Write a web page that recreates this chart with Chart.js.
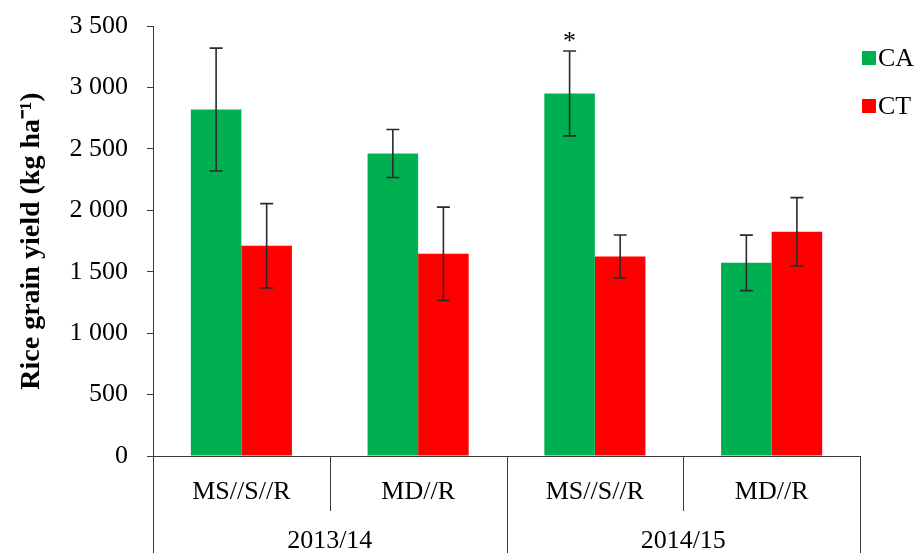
<!DOCTYPE html>
<html lang="en">
<head>
    <meta charset="UTF-8">
    <title>Rice grain yield</title>
    <script src="https://cdn.jsdelivr.net/npm/chart.js"></script>
    <style>
        html, body { margin: 0; padding: 0; background: #fff; }
        .grafico { width: 924px; height: 553px; }
    </style>
</head>
<body>
    <div class="grafico">
        <canvas id="grafico-rendimento" width="924" height="553"></canvas>
    </div>

<script>
    // valores
    const sistemas = ['MS//S//R', 'MD//R', 'MS//S//R', 'MD//R'];
    const safras = ['2013/14', '2014/15'];
    const yTicks = [0, 500, 1000, 1500, 2000, 2500, 3000, 3500];

    const rendimentoCA = [2820, 2462, 2951, 1572];
    const erroCA = [500, 195, 345, 226];
    const rendimentoCT = [1711, 1646, 1624, 1825];
    const erroCT = [343, 380, 175, 278];
    const signifCA = ['', '', '*', ''];

    const fonte = 'Liberation Serif, Times New Roman, serif';
    const corEixo = '#3a3a3a';

    function formatarMilhar(v) {
        return String(v).replace(/\B(?=(\d{3})+(?!\d))/g, ' ');
    }

    // barras de erro + asterisco
    const pluginErros = {
        id: 'erros',
        afterDatasetsDraw(chart) {
            const ctx = chart.ctx;
            const y = chart.scales.y;
            const erros = [erroCA, erroCT];
            ctx.save();
            ctx.strokeStyle = '#2a2a2a';
            ctx.lineWidth = 1.6;
            chart.data.datasets.forEach((ds, d) => {
                const meta = chart.getDatasetMeta(d);
                meta.data.forEach((bar, i) => {
                    const v = ds.data[i];
                    const topo = y.getPixelForValue(v + erros[d][i]);
                    const base = y.getPixelForValue(v - erros[d][i]);
                    ctx.beginPath();
                    ctx.moveTo(bar.x, topo);
                    ctx.lineTo(bar.x, base);
                    ctx.moveTo(bar.x - 6.5, topo);
                    ctx.lineTo(bar.x + 6.5, topo);
                    ctx.moveTo(bar.x - 6.5, base);
                    ctx.lineTo(bar.x + 6.5, base);
                    ctx.stroke();
                    if (d === 0 && signifCA[i]) {
                        ctx.fillStyle = '#000';
                        ctx.font = '26px ' + fonte;
                        ctx.textAlign = 'center';
                        ctx.textBaseline = 'middle';
                        ctx.fillText(signifCA[i], bar.x, topo - 9);
                    }
                });
            });
            ctx.restore();
        }
    };

    // linhas separadoras do eixo x agrupado
    const pluginSeparadores = {
        id: 'separadores',
        afterDraw(chart) {
            const ctx = chart.ctx;
            const x = chart.scales.x;
            const area = chart.chartArea;
            ctx.save();
            ctx.strokeStyle = corEixo;
            ctx.lineWidth = 1;
            for (let i = 0; i <= sistemas.length; i++) {
                const px = Math.round(x.getPixelForValue(i - 0.5)) + 0.5;
                const fim = (i % 2 === 0) ? chart.height : x.bottom + 2;
                ctx.beginPath();
                ctx.moveTo(px, area.bottom);
                ctx.lineTo(px, fim);
                ctx.stroke();
            }
            ctx.restore();
        }
    };

    // legenda a direita
    const pluginLegenda = {
        id: 'legenda',
        afterDraw(chart) {
            const ctx = chart.ctx;
            const area = chart.chartArea;
            ctx.save();
            ctx.font = '26px ' + fonte;
            ctx.textAlign = 'left';
            ctx.textBaseline = 'middle';
            chart.data.datasets.forEach((ds, d) => {
                const cy = 58 + d * 48;
                ctx.fillStyle = ds.backgroundColor;
                ctx.fillRect(area.right + 2, cy - 7, 14, 14);
                ctx.fillStyle = '#000';
                ctx.fillText(ds.label, area.right + 18, cy + 1);
            });
            ctx.restore();
        }
    };

    new Chart(document.getElementById('grafico-rendimento'), {
        type: 'bar',
        data: {
            labels: sistemas,
            datasets: [{
                label: 'CA',
                data: rendimentoCA,
                backgroundColor: '#00B050',
                categoryPercentage: 0.572,
                barPercentage: 1.0
            }, {
                label: 'CT',
                data: rendimentoCT,
                backgroundColor: '#FF0000',
                categoryPercentage: 0.572,
                barPercentage: 1.0
            }]
        },
        options: {
            responsive: false,
            animation: false,
            devicePixelRatio: 1,
            layout: {
                padding: { left: 0, right: 64, top: 26, bottom: 0 }
            },
            plugins: {
                legend: { display: false },
                tooltip: { enabled: false }
            },
            scales: {
                x: {
                    position: 'bottom',
                    weight: 0,
                    grid: { display: false },
                    border: { display: true, color: corEixo, width: 1 },
                    ticks: {
                        color: '#000',
                        padding: 13,
                        font: { family: fonte, size: 26 }
                    },
                    afterFit(scale) { scale.height = 53; }
                },
                x2: {
                    type: 'category',
                    position: 'bottom',
                    weight: 1,
                    labels: safras,
                    offset: true,
                    grid: { display: false },
                    border: { display: false },
                    ticks: {
                        color: '#000',
                        padding: 9,
                        font: { family: fonte, size: 26 }
                    },
                    afterFit(scale) { scale.height = 44; }
                },
                y: {
                    min: 0,
                    max: 3500,
                    afterBuildTicks(scale) {
                        scale.ticks = yTicks.map(v => ({ value: v }));
                    },
                    grid: {
                        drawOnChartArea: false,
                        tickLength: 6,
                        color: corEixo
                    },
                    border: { display: true, color: corEixo, width: 1 },
                    ticks: {
                        color: '#000',
                        padding: 19,
                        font: { family: fonte, size: 26 },
                        callback: v => formatarMilhar(v)
                    },
                    title: {
                        display: true,
                        text: 'Rice grain yield (kg ha\u207B\u00B9)',
                        color: '#000',
                        font: { family: fonte, size: 28, weight: 'bold' },
                        padding: { top: 15, bottom: 0 }
                    },
                    afterFit(scale) {
                        scale.width = 153;
                        scale.paddingTop = 0;
                        scale.paddingBottom = 0;
                    }
                }
            }
        },
        plugins: [pluginErros, pluginSeparadores, pluginLegenda]
    });
</script>
</body>
</html>
